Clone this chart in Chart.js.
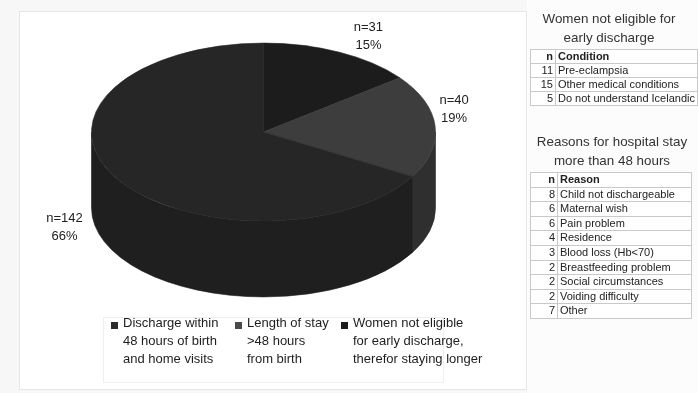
<!DOCTYPE html>
<html>
<head>
<meta charset="utf-8">
<script src="https://cdn.jsdelivr.net/npm/chart.js@4.4.1/dist/chart.umd.min.js"></script>
<style>
  html, body { margin: 0; padding: 0; }
  body {
    width: 698px; height: 393px; position: relative; overflow: hidden;
    background: #f7f7f7;
    font-family: "Liberation Sans", Arial, Helvetica, sans-serif;
    color: #222;
  }
  #panel {
    position: absolute; left: 19px; top: 11px; width: 506px; height: 377px;
    background: #fff; border: 1px solid #e6e6e6;
  }
  #side {
    position: absolute; left: 527px; top: 0; width: 171px; height: 393px;
    background: #fcfcfc;
  }
  #pie { position: absolute; left: 0; top: 0; z-index: 2; pointer-events: none; }
  #legendBox {
    position: absolute; left: 103px; top: 317px; width: 339px; height: 64px;
    border: 1px solid #efefef; background: #fff; z-index: 1;
  }
  .lg { position: absolute; top: 314px; font-size: 13px; line-height: 18px; z-index: 3; color: #1e1e1e; white-space: nowrap; }
  .lg .sw { position: absolute; top: 8px; width: 7px; height: 7px; }
  .ttl { position: absolute; text-align: center; font-size: 13.4px; color: #333; z-index: 3; }
  table { position: absolute; border-collapse: collapse; font-size: 11px; z-index: 3; background: #fff; table-layout: fixed; }
  td { border: 1px solid #c9c9c9; padding: 0 2px; white-space: nowrap; color: #222; overflow: hidden; }
  td.n { text-align: right; }
  tr.hd td { font-weight: bold; }
  #tab1 td { line-height: 13px; }
  #tab2 td { line-height: 13.6px; }
</style>
</head>
<body>
<div id="panel"></div>
<div id="side"></div>
<div id="legendBox"></div>
<canvas id="pie" width="698" height="393"></canvas>
<div id="legend"></div>
<div class="ttl" style="left:530px; top:9px; width:158px; line-height:19px;">Women not eligible for<br>early discharge</div>
<table id="tab1" style="left:530px; top:49px; width:168px;"></table>
<div class="ttl" style="left:530px; top:133px; width:164px; line-height:18.5px;">Reasons for hospital stay<br>more than 48 hours</div>
<table id="tab2" style="left:530px; top:172px; width:162px;"></table>

<script>
// Slices, clockwise from 12 o'clock
const categories = [
  ['Women not eligible', 'for early discharge,', 'therefor staying longer'],
  ['Length of stay', '>48 hours', 'from birth'],
  ['Discharge within', '48 hours of birth', 'and home visits']
];
const counts = [31, 40, 142];
const percentLabels = ['15%', '19%', '66%'];

// Breakdown tables
const conditionN = [11, 15, 5];
const conditionNames = ['Pre-eclampsia', 'Other medical conditions', 'Do not understand Icelandic'];
const reasonN = [8, 6, 6, 4, 3, 2, 2, 2, 7];
const reasonNames = ['Child not dischargeable', 'Maternal wish', 'Pain problem', 'Residence',
  'Blood loss (Hb<70)', 'Breastfeeding problem', 'Social circumstances', 'Voiding difficulty', 'Other'];

// Styling
const topColors = ['#1c1c1c', '#3d3d3d', '#262626'];
const sideColors = ['#181818', '#2f2f2f', '#1f1f1f'];
const swatchColors = ['#1b1b1b', '#4a4a4a', '#2b2b2b'];
const TILT = 0.517;      // vertical squash of the disc
const DEPTH = 76;        // thickness of the disc in px
const labelOffsets = [[29, -16], [19, -17], [-50, 51]];
const legendX = [341, 235, 111];

// Build the tables
function fillTable(id, head, ns, names, nWidth) {
  const t = document.getElementById(id);
  let html = '<colgroup><col style="width:' + nWidth + 'px"><col></colgroup>';
  html += '<tr class="hd"><td class="n">n</td><td>' + head + '</td></tr>';
  ns.forEach((n, i) => {
    const esc = names[i].replace(/&/g, '&amp;').replace(/</g, '&lt;');
    html += '<tr><td class="n">' + n + '</td><td>' + esc + '</td></tr>';
  });
  t.innerHTML = html;
}
fillTable('tab1', 'Condition', conditionN, conditionNames, 25);
fillTable('tab2', 'Reason', reasonN, reasonNames, 27);

// Legend, listed in reverse slice order
const legend = document.getElementById('legend');
for (let i = categories.length - 1; i >= 0; i--) {
  const d = document.createElement('div');
  d.className = 'lg';
  d.style.left = legendX[i] + 'px';
  const sw = document.createElement('span');
  sw.className = 'sw';
  sw.style.background = swatchColors[i];
  sw.style.left = '0px';
  d.appendChild(sw);
  const txt = document.createElement('div');
  txt.style.marginLeft = '12px';
  txt.innerHTML = categories[i].map(s => s.replace(/&/g, '&amp;').replace(/>/g, '&gt;')).join('<br>');
  d.appendChild(txt);
  legend.appendChild(d);
}

function arcGeom(arc) {
  return arc.getProps(['x', 'y', 'startAngle', 'endAngle', 'outerRadius'], true);
}

// Extruded elliptical pie drawn from the arc elements' geometry
const pie3d = {
  id: 'pie3d',
  beforeDatasetsDraw(chart) {
    const ctx = chart.ctx;
    const arcs = chart.getDatasetMeta(0).data;
    ctx.save();
    // front wall
    arcs.forEach((arc, i) => {
      const p = arcGeom(arc);
      const rx = p.outerRadius, ry = p.outerRadius * TILT;
      const a = Math.max(p.startAngle, 0), b = Math.min(p.endAngle, Math.PI);
      if (b > a) {
        ctx.beginPath();
        ctx.ellipse(p.x, p.y, rx, ry, 0, a, b);
        ctx.ellipse(p.x, p.y + DEPTH, rx, ry, 0, b, a, true);
        ctx.closePath();
        ctx.fillStyle = sideColors[i];
        ctx.fill();
        ctx.strokeStyle = sideColors[i];
        ctx.lineWidth = 0.6;
        ctx.stroke();
      }
    });
    // top face
    arcs.forEach((arc, i) => {
      const p = arcGeom(arc);
      const rx = p.outerRadius, ry = p.outerRadius * TILT;
      ctx.beginPath();
      ctx.moveTo(p.x, p.y);
      ctx.ellipse(p.x, p.y, rx, ry, 0, p.startAngle, p.endAngle);
      ctx.closePath();
      ctx.fillStyle = topColors[i];
      ctx.fill();
      ctx.strokeStyle = topColors[i];
      ctx.lineWidth = 0.6;
      ctx.stroke();
    });
    ctx.restore();
    return false;
  },
  afterDraw(chart) {
    // value labels beside each slice
    const ctx = chart.ctx;
    const arcs = chart.getDatasetMeta(0).data;
    const vals = chart.data.datasets[0].data;
    ctx.save();
    ctx.font = '13px "Liberation Sans", Arial, sans-serif';
    ctx.fillStyle = '#222';
    ctx.textAlign = 'center';
    ctx.textBaseline = 'middle';
    arcs.forEach((arc, i) => {
      const p = arcGeom(arc);
      const mid = (p.startAngle + p.endAngle) / 2;
      const lx = p.x + p.outerRadius * Math.cos(mid) + labelOffsets[i][0];
      const ly = p.y + p.outerRadius * TILT * Math.sin(mid) + labelOffsets[i][1];
      ctx.fillText('n=' + vals[i], lx, ly - 9);
      ctx.fillText(percentLabels[i], lx, ly + 9);
    });
    ctx.restore();
  }
};

new Chart(document.getElementById('pie'), {
  type: 'pie',
  data: {
    labels: categories.map(c => c.join(' ')),
    datasets: [{
      data: counts,
      backgroundColor: topColors,
      borderWidth: 0,
      radius: 172
    }]
  },
  options: {
    responsive: false,
    animation: false,
    devicePixelRatio: 1,
    events: [],
    layout: { padding: { left: 0, right: 171, top: 0, bottom: 129 } },
    plugins: { legend: { display: false }, tooltip: { enabled: false } }
  },
  plugins: [pie3d]
});
</script>
</body>
</html>
